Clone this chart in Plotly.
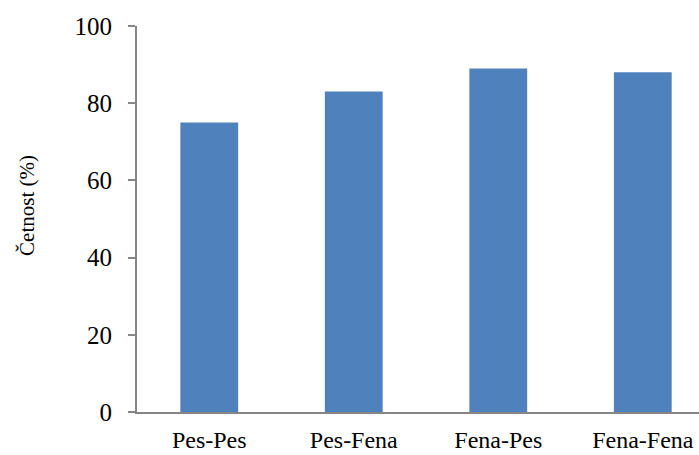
import plotly.graph_objects as go

categories = ["Pes-Pes", "Pes-Fena", "Fena-Pes", "Fena-Fena"]
values = [75, 83, 89, 88]
y_ticks = [0, 20, 40, 60, 80, 100]
y_title = "Četnost (%)"

font_family = "Liberation Serif, Times New Roman, serif"
axis_color = "#868686"

fig = go.Figure(
    go.Bar(
        x=categories,
        y=values,
        marker=dict(color="#4F81BD", line=dict(width=0)),
        width=0.4,
    )
)

fig.update_layout(
    width=699,
    height=455,
    margin=dict(l=137, r=0, t=25.5, b=42.5, autoexpand=False),
    paper_bgcolor="white",
    plot_bgcolor="white",
    showlegend=False,
    font=dict(family=font_family, size=24, color="black"),
    annotations=[
        dict(
            text=y_title,
            xref="paper",
            yref="paper",
            x=-0.1957,
            y=0.534,
            xanchor="center",
            yanchor="middle",
            textangle=-90,
            showarrow=False,
            font=dict(family=font_family, size=21, color="black"),
        )
    ],
)

fig.update_xaxes(
    range=[-0.5, 3.389],
    showline=True,
    linecolor=axis_color,
    linewidth=2,
    ticks="",
    showgrid=False,
    zeroline=False,
    automargin=False,
    tickfont=dict(family=font_family, size=24, color="black"),
    ticklabelstandoff=5,
)

fig.update_yaxes(
    range=[0, 100],
    tickvals=y_ticks,
    showline=True,
    linecolor=axis_color,
    linewidth=2,
    ticks="outside",
    ticklen=7,
    tickwidth=2,
    tickcolor=axis_color,
    showgrid=False,
    zeroline=False,
    automargin=False,
    tickfont=dict(family=font_family, size=25, color="black"),
    ticklabelstandoff=11,
)

fig.write_html(
    "out.html",
    config={"displayModeBar": False},
    post_script="document.body.style.margin='0';document.body.style.overflow='hidden';",
)
